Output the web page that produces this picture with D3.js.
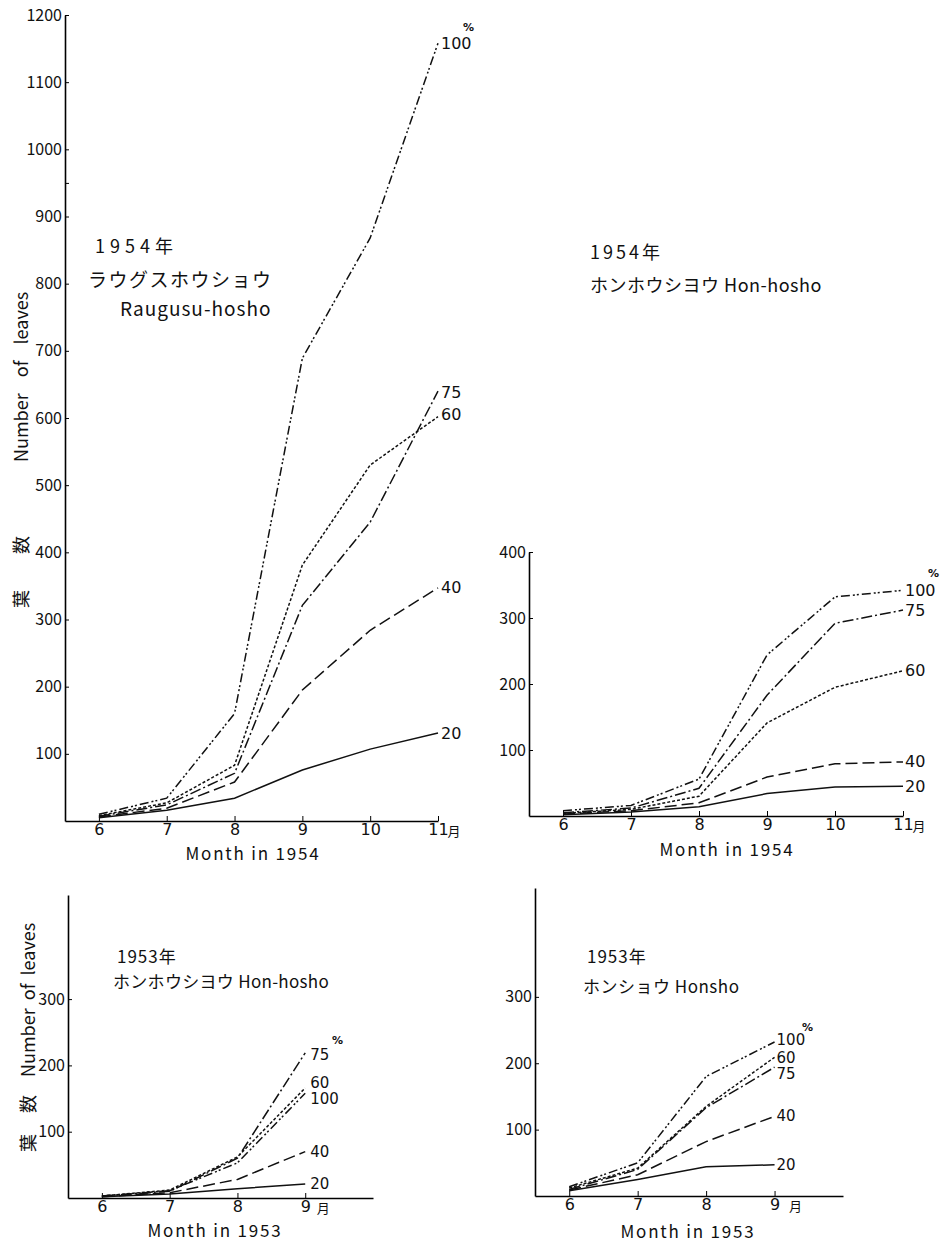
<!DOCTYPE html>
<html>
<head>
<meta charset="utf-8">
<script src="https://cdn.jsdelivr.net/npm/d3@7"></script>
<style>
  body { margin: 0; background: #fff; }
  text { font-family: "Noto Sans CJK JP", "DejaVu Sans", sans-serif; fill: #111; }
  .end-label { font-family: "DejaVu Sans", sans-serif; }
</style>
</head>
<body>
<script>
// months on the x axes
const months1954 = [6, 7, 8, 9, 10, 11];
const months1953 = [6, 7, 8, 9];

// 1954 Raugusu-hosho, number of leaves per shading %
const rau54_100 = [10, 34, 160, 689, 868, 1158];
const rau54_75  = [7, 24, 71, 321, 445, 640];
const rau54_60  = [8, 27, 83, 381, 530, 602];
const rau54_40  = [6, 19, 58, 195, 284, 347];
const rau54_20  = [5, 16, 34, 76, 107, 131];

// 1954 Hon-hosho
const hon54_100 = [8, 16, 56, 244, 332, 342];
const hon54_75  = [5, 12, 42, 183, 292, 312];
const hon54_60  = [4, 10, 30, 141, 195, 220];
const hon54_40  = [3, 8, 20, 59, 79, 82];
const hon54_20  = [2, 6, 14, 34, 44, 45];

// 1953 Hon-hosho
const hon53_75  = [3, 10, 60, 219];
const hon53_60  = [3, 12, 62, 166];
const hon53_100 = [3, 11, 53, 158];
const hon53_40  = [2, 8, 28, 70];
const hon53_20  = [2, 6, 14, 21];

// 1953 Honsho
const honsho53_100 = [14, 50, 180, 232];
const honsho53_60  = [12, 42, 135, 209];
const honsho53_75  = [10, 40, 133, 194];
const honsho53_40  = [9, 32, 82, 120];
const honsho53_20  = [8, 25, 44, 47];

// tick labels
const ticks1200 = [100, 200, 300, 400, 500, 600, 700, 800, 900, 950, 1000, 1100, 1200];
const ticks400 = [100, 200, 300, 400];
const ticks300 = [100, 200, 300];

const dashes = { "100": "9,3,2,2,2,3", "75": "11,3,2,3", "60": "3,2", "40": "12,5", "20": null };

const svg = d3.select("body").append("svg")
    .attr("width", 942)
    .attr("height", 1241)
    .style("background", "#fff");

function drawPanel(p) {
    const x = d3.scaleLinear().domain(p.xDomain).range(p.xRange);
    const y = d3.scaleLinear().domain(p.yDomain).range(p.yRange);
    const g = svg.append("g");

    // x axis, ticks point up
    const xa = g.append("g")
        .attr("transform", `translate(0,${p.yRange[0]})`)
        .call(d3.axisBottom(x).tickValues(p.months).tickFormat(d3.format("d"))
            .tickSizeInner(-5).tickSizeOuter(0).tickPadding(3))
    xa.select(".domain").attr("stroke-width", 1.6)
    xa.selectAll("text").style("font-size", p.tickFont + "px").attr("fill", "#111")
        .style("font-family", "DejaVu Sans")

    // 月 after the last month
    g.append("text")
        .attr("x", x(p.months[p.months.length - 1]) + p.monthDx)
        .attr("y", p.yRange[0] + 3)
        .attr("dy", "0.95em")
        .attr("text-anchor", "middle")
        .style("font-size", "13px")
        .text("月")

    // y axis
    const ya = g.append("g")
        .attr("transform", `translate(${p.xRange[0]},0)`)
        .call(d3.axisLeft(y).tickValues(p.yTicks).tickSizeInner(-4).tickSizeOuter(0).tickPadding(3)
            .tickFormat(d => d === 950 ? "" : d))
    ya.select(".domain").attr("stroke-width", 1.6)
    ya.selectAll("text").style("font-size", p.tickFont + "px").attr("fill", "#111")

    const line = d3.line()
        .x((d, i) => x(p.months[i]))
        .y(d => y(d))

    p.series.forEach(s => {
        g.append("path")
            .datum(s.values)
            .attr("fill", "none")
            .attr("stroke", "#111")
            .attr("stroke-width", 1.5)
            .attr("stroke-dasharray", dashes[s.level])
            .attr("d", line)

        const last = s.values[s.values.length - 1];
        g.append("text")
            .attr("class", "end-label")
            .attr("x", x(p.months[p.months.length - 1]) + p.labelDx)
            .attr("y", y(last) + (s.nudge || 0))
            .attr("dominant-baseline", "central")
            .style("font-size", p.labelFont + "px")
            .text(s.level)
    })

    // % sign above the top label
    g.append("text")
        .attr("class", "end-label")
        .attr("x", p.pct[0])
        .attr("y", p.pct[1])
        .attr("dominant-baseline", "central")
        .style("font-size", "11px")
        .style("font-weight", "bold")
        .text("%")

    p.titles.forEach(t => {
        g.append("text")
            .attr("x", t.x)
            .attr("y", t.y)
            .attr("dominant-baseline", "central")
            .style("font-size", t.size + "px")
            .style("letter-spacing", (t.ls || 0) + "px")
            .text(t.text)
    })

    g.append("text")
        .attr("x", p.monthLabel[0])
        .attr("y", p.monthLabel[1])
        .attr("text-anchor", "middle")
        .attr("dominant-baseline", "central")
        .style("font-size", "17px")
        .style("letter-spacing", "1.8px")
        .text(p.monthText)

    // rotated y title pieces
    if (p.yTitle) {
        p.yTitle.forEach(t => {
            g.append("text")
                .attr("transform", `translate(${t.x},${t.y}) rotate(-90)`)
                .attr("text-anchor", t.anchor)
                .attr("dominant-baseline", "central")
                .style("font-size", "18px")
                .style("word-spacing", (t.ws || 0) + "px")
                .text(t.text)
        })
    }
}

drawPanel({
    months: months1954,
    xDomain: [5.5, 11], xRange: [65, 438],
    yDomain: [0, 1200], yRange: [821, 15],
    yTicks: ticks1200, tickFont: 16, labelFont: 16, labelDx: 3, monthDx: 16,
    series: [
        { level: "100", values: rau54_100 },
        { level: "75", values: rau54_75, nudge: 1 },
        { level: "60", values: rau54_60, nudge: -2 },
        { level: "40", values: rau54_40 },
        { level: "20", values: rau54_20 }
    ],
    pct: [463, 27],
    titles: [
        { text: "1954年", x: 95, y: 245, size: 18, ls: 5 },
        { text: "ラウグスホウショウ", x: 88, y: 278, size: 19, ls: 1.5 },
        { text: "Raugusu-hosho", x: 120, y: 307, size: 19, ls: 1 }
    ],
    monthLabel: [253, 852], monthText: "Month in 1954",
    yTitle: [
        { text: "葉", x: 20, y: 599, anchor: "middle" },
        { text: "数", x: 20, y: 545, anchor: "middle" },
        { text: "Number of leaves", x: 20, y: 462, anchor: "start", ws: 12 }
    ]
})

drawPanel({
    months: months1954,
    xDomain: [5.5, 11], xRange: [529, 903],
    yDomain: [0, 400], yRange: [816, 552],
    yTicks: ticks400, tickFont: 16, labelFont: 16, labelDx: 2, monthDx: 16,
    series: [
        { level: "100", values: hon54_100 },
        { level: "75", values: hon54_75 },
        { level: "60", values: hon54_60 },
        { level: "40", values: hon54_40 },
        { level: "20", values: hon54_20 }
    ],
    pct: [928, 573],
    titles: [
        { text: "1954年", x: 590, y: 251, size: 18, ls: 3 },
        { text: "ホンホウシヨウ  Hon-hosho", x: 590, y: 284, size: 18, ls: 0.5 }
    ],
    monthLabel: [727, 848], monthText: "Month in 1954"
})

drawPanel({
    months: months1953,
    xDomain: [5.5, 10], xRange: [68, 373],
    yDomain: [0, 457], yRange: [1198, 895],
    yTicks: ticks300, tickFont: 16, labelFont: 15, labelDx: 5, monthDx: 18,
    series: [
        { level: "75", values: hon53_75, nudge: 2 },
        { level: "60", values: hon53_60, nudge: -5 },
        { level: "100", values: hon53_100, nudge: 6 },
        { level: "40", values: hon53_40 },
        { level: "20", values: hon53_20 }
    ],
    pct: [332, 1040],
    titles: [
        { text: "1953年", x: 117, y: 955, size: 17, ls: 1 },
        { text: "ホンホウシヨウ Hon-hosho", x: 113, y: 980, size: 17, ls: 0.3 }
    ],
    monthLabel: [215, 1229], monthText: "Month in 1953",
    yTitle: [
        { text: "葉", x: 27, y: 1143, anchor: "middle" },
        { text: "数", x: 27, y: 1104, anchor: "middle" },
        { text: "Number of leaves", x: 27, y: 1077, anchor: "start", ws: 4 }
    ]
})

drawPanel({
    months: months1953,
    xDomain: [5.5, 10], xRange: [535, 843],
    yDomain: [0, 464], yRange: [1196, 888],
    yTicks: ticks300, tickFont: 16, labelFont: 15, labelDx: 2, monthDx: 21,
    series: [
        { level: "100", values: honsho53_100, nudge: -2 },
        { level: "60", values: honsho53_60, nudge: 1 },
        { level: "75", values: honsho53_75, nudge: 7 },
        { level: "40", values: honsho53_40 },
        { level: "20", values: honsho53_20 }
    ],
    pct: [802, 1027],
    titles: [
        { text: "1953年", x: 587, y: 955, size: 17, ls: 1 },
        { text: "ホンショウ  Honsho", x: 583, y: 985, size: 17, ls: 0.5 }
    ],
    monthLabel: [688, 1230], monthText: "Month in 1953"
})
</script>
</body>
</html>
